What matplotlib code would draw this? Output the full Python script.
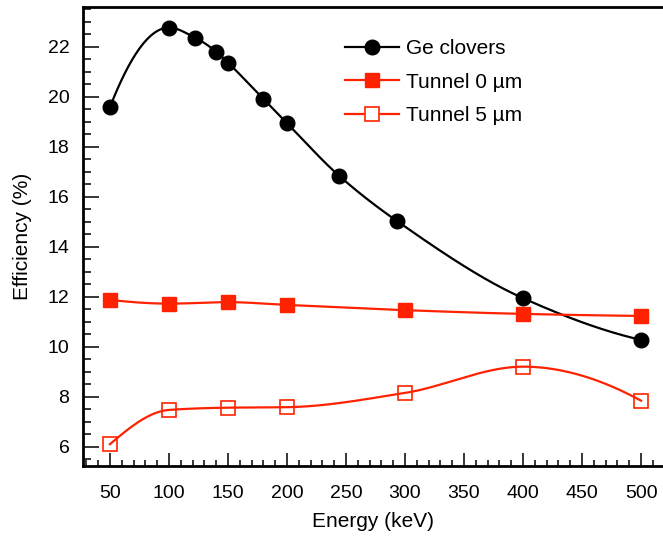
import numpy as np
import matplotlib
matplotlib.use("Agg")
import matplotlib.pyplot as plt
from matplotlib.ticker import MultipleLocator

plt.rcParams['font.family'] = ['Liberation Sans', 'DejaVu Sans']

# data
ge_energy = [50, 100, 122, 140, 150, 180, 200, 244, 293, 400, 500]
ge_eff = [19.58, 22.76, 22.36, 21.80, 21.36, 19.91, 18.94, 16.84, 15.03, 11.94, 10.27]

tun_energy = [50, 100, 150, 200, 300, 400, 500]
tun0_eff = [11.87, 11.72, 11.78, 11.67, 11.46, 11.31, 11.23]
tun5_eff = [6.10, 7.47, 7.56, 7.58, 8.15, 9.20, 7.84]

RED = '#ff2200'


def pchip(x, y, xs):
    # monotone cubic (Fritsch-Carlson) for the smooth connecting lines
    x = np.asarray(x, float)
    y = np.asarray(y, float)
    h = np.diff(x)
    d = np.diff(y) / h
    n = len(x)
    m = np.zeros(n)
    for i in range(1, n - 1):
        if d[i - 1] * d[i] > 0:
            w1 = 2 * h[i] + h[i - 1]
            w2 = h[i] + 2 * h[i - 1]
            m[i] = (w1 + w2) / (w1 / d[i - 1] + w2 / d[i])
    m[0] = ((2 * h[0] + h[1]) * d[0] - h[0] * d[1]) / (h[0] + h[1])
    if np.sign(m[0]) != np.sign(d[0]):
        m[0] = 0
    m[-1] = ((2 * h[-1] + h[-2]) * d[-1] - h[-1] * d[-2]) / (h[-1] + h[-2])
    if np.sign(m[-1]) != np.sign(d[-1]):
        m[-1] = 0
    k = np.clip(np.searchsorted(x, xs) - 1, 0, n - 2)
    t = (xs - x[k]) / h[k]
    h00 = 2 * t**3 - 3 * t**2 + 1
    h10 = t**3 - 2 * t**2 + t
    h01 = -2 * t**3 + 3 * t**2
    h11 = t**3 - t**2
    return h00 * y[k] + h10 * h[k] * m[k] + h01 * y[k + 1] + h11 * h[k] * m[k + 1]


fig = plt.figure(figsize=(6.63, 5.37), dpi=100)
ax = fig.add_axes([0.1256, 0.1328, 0.8744, 0.854])

xs = np.linspace(50, 500, 600)

ax.plot(xs, pchip(ge_energy, ge_eff, xs), color='black', lw=1.6)
ax.plot(ge_energy, ge_eff, 'o', color='black', ms=10.5)
ax.plot(xs, pchip(tun_energy, tun0_eff, xs), color=RED, lw=1.6)
ax.plot(tun_energy, tun0_eff, 's', color=RED, ms=10.5)
ax.plot(xs, pchip(tun_energy, tun5_eff, xs), color=RED, lw=1.6)
ax.plot(tun_energy, tun5_eff, 's', mfc='none', mec=RED, mew=1.2, ms=10.5)

# legend proxies (line + marker)
ax.plot([], [], '-o', color='black', lw=1.6, ms=10.5, label='Ge clovers')
ax.plot([], [], '-s', color=RED, lw=1.6, ms=10.5, label='Tunnel 0 µm')
ax.plot([], [], '-s', color=RED, lw=1.6, ms=10.5, mfc='white', mec=RED, mew=1.2,
        label='Tunnel 5 µm')
h, l = ax.get_legend_handles_labels()
ax.legend(h[-3:], l[-3:], loc='upper left', bbox_to_anchor=(0.520, 0.927),
          bbox_transform=fig.transFigure, borderpad=0, borderaxespad=0,
          frameon=False, fontsize=15, handlelength=2.6, labelspacing=0.69,
          handletextpad=0.35)

ax.set_xlim(27.4, 518.6)
ax.set_ylim(5.24, 23.58)
ax.xaxis.set_major_locator(MultipleLocator(50))
ax.xaxis.set_minor_locator(MultipleLocator(10))
ax.yaxis.set_major_locator(MultipleLocator(2))
ax.yaxis.set_minor_locator(MultipleLocator(0.5))

ax.spines['right'].set_visible(False)
for s in ['left', 'bottom', 'top']:
    ax.spines[s].set_linewidth(2)

ax.tick_params(axis='x', which='major', direction='in', length=9.5, width=1.1,
               labelsize=14, pad=14)
ax.tick_params(axis='x', which='minor', direction='in', length=4.5, width=1.1)
ax.tick_params(axis='y', which='major', direction='in', length=11.5, width=1.1,
               labelsize=14, pad=10)
ax.tick_params(axis='y', which='minor', direction='in', length=5.8, width=1.1)

ax.set_xlabel('Energy (keV)', fontsize=15, labelpad=7)
ax.set_ylabel('Efficiency (%)', fontsize=15, labelpad=11)

fig.savefig('out.png', dpi=100)
